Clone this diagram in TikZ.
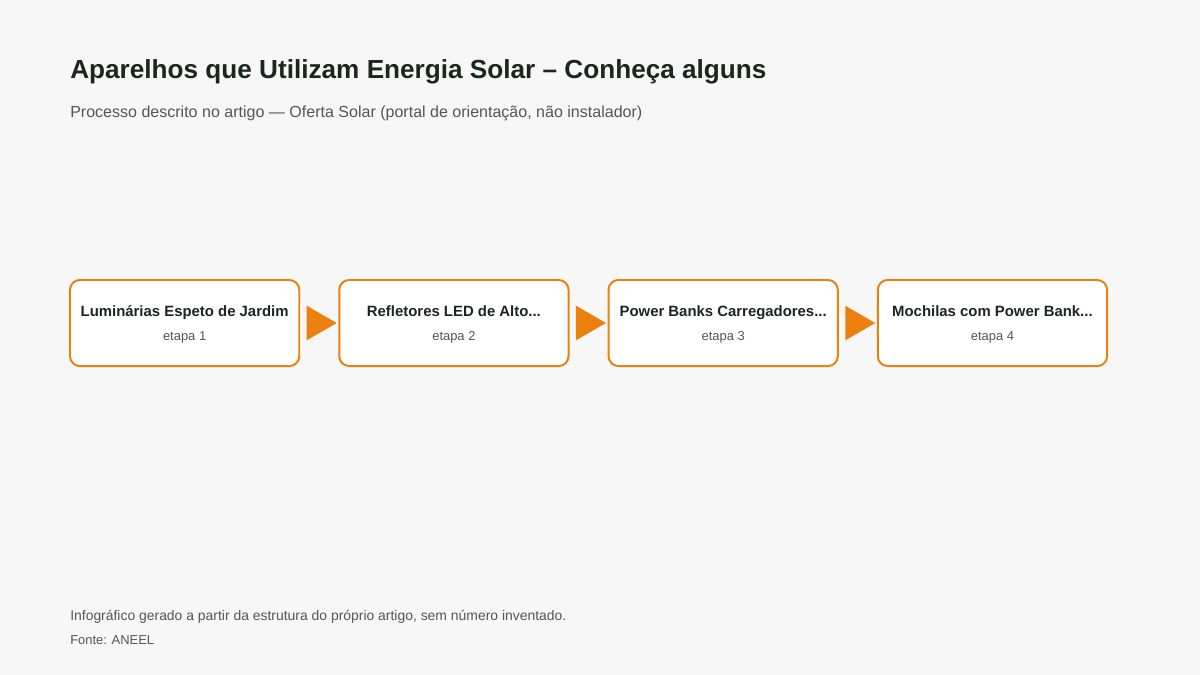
\documentclass[tikz,border=0pt]{standalone}
\usepackage{fontspec}
\setmainfont{Liberation Sans}
\usetikzlibrary{positioning,shapes.geometric,calc}
\definecolor{solarOrange}{RGB}{236, 128, 14}
\definecolor{solarInk}{RGB}{28, 38, 32}
\definecolor{solarGray}{RGB}{85, 85, 85}
\definecolor{solarBack}{RGB}{247, 247, 247}

\begin{document}
\begin{tikzpicture}[x=0.025cm, y=-0.025cm, node distance=1cm,
    stage/.style={draw=solarOrange, line width=1.4pt, fill=white, rounded corners=7pt, minimum width=5.73cm, minimum height=2.15cm, outer sep=0pt},
    stagetitle/.style={font=\fontsize{10.6}{12}\selectfont\bfseries, text=solarInk, anchor=base, inner sep=0pt},
    stagelabel/.style={font=\fontsize{9.2}{11}\selectfont, text=solarGray, anchor=base, inner sep=0pt},
    caption/.style={anchor=base west, inner sep=0pt},
    flow/.style={isosceles triangle, fill=solarOrange, inner sep=0pt, minimum height=0.75cm, minimum width=0.75cm, isosceles triangle apex angle=60, anchor=apex}]
    \fill[solarBack] (0,0) rectangle (1200,675);
    \node[caption, font=\fontsize{18.6}{22}\selectfont\bfseries, text=solarInk] (title) at (70,79) {Aparelhos que Utilizam Energia Solar – Conheça alguns};
    \node[caption, font=\fontsize{11.4}{14}\selectfont, text=solarGray] (sub) at (70,118) {Processo descrito no artigo — Oferta Solar (portal de orientação, não instalador)};

    \node[stage, anchor=north west] (a) at (70,280) {};
    \node[stage, right=of a] (b) {};
    \node[stage, right=of b] (c) {};
    \node[stage, right=of c] (d) {};

    \node[stagetitle] at ([yshift=0.17cm]a.center) {Luminárias Espeto de Jardim};
    \node[stagetitle] at ([yshift=0.17cm]b.center) {Refletores LED de Alto...};
    \node[stagetitle] at ([yshift=0.17cm]c.center) {Power Banks Carregadores...};
    \node[stagetitle] at ([yshift=0.17cm]d.center) {Mochilas com Power Bank...};
    \node[stagelabel] at ([yshift=-0.44cm]a.center) {etapa 1};
    \node[stagelabel] at ([yshift=-0.44cm]b.center) {etapa 2};
    \node[stagelabel] at ([yshift=-0.44cm]c.center) {etapa 3};
    \node[stagelabel] at ([yshift=-0.44cm]d.center) {etapa 4};

    \node[flow] (ab) at ([xshift=-0.05cm]b.west) {};
    \node[flow] (bc) at ([xshift=-0.05cm]c.west) {};
    \node[flow] (cd) at ([xshift=-0.05cm]d.west) {};

    \node[caption, font=\fontsize{9.9}{12}\selectfont, text=solarGray] (note) at (70,620) {Infográfico gerado a partir da estrutura do próprio artigo, sem número inventado.};
    \node[caption, font=\fontsize{9.2}{11}\selectfont, text=solarGray] (src) at (70,644) {Fonte: ANEEL};
\end{tikzpicture}
\end{document}
